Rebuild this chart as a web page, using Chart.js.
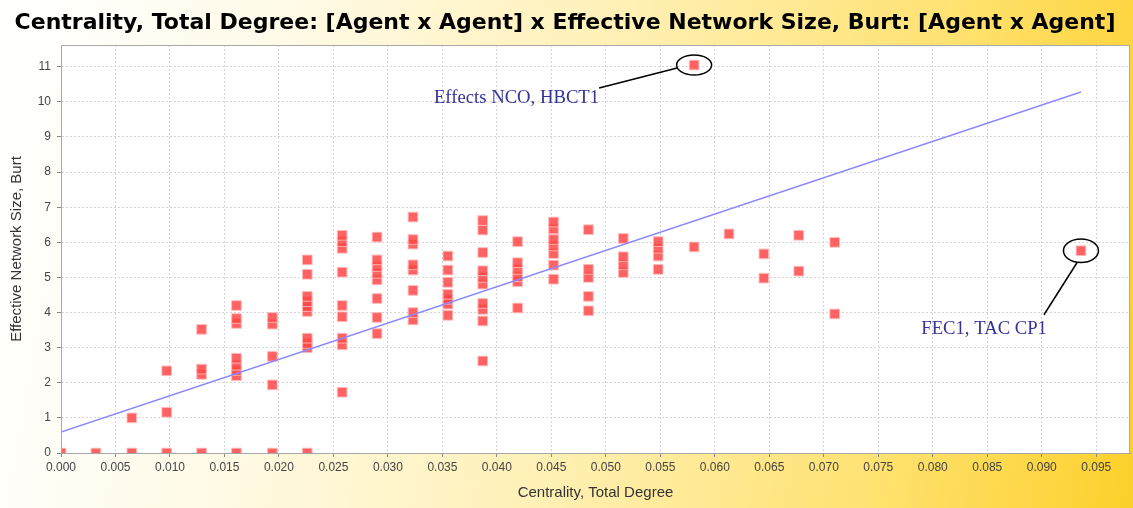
<!DOCTYPE html>
<html>
<head>
<meta charset="utf-8">
<script src="https://cdn.jsdelivr.net/npm/chart.js@4.4.0/dist/chart.umd.min.js"></script>
<style>
  html, body { margin: 0; padding: 0; }
  .wrap {
    width: 1133px;
    height: 508px;
    background: linear-gradient(100deg, #ffffff 0%, #fffbea 22%, #fff1b8 50%, #ffe272 78%, #fcd02a 100%);
  }
</style>
</head>
<body>
<div class="wrap"><canvas id="chart"></canvas></div>
<script>
// centrality (total degree) columns and the burt sizes found in each one
const degree = [0.0000, 0.0032, 0.0065, 0.0097, 0.0129, 0.0161, 0.0194, 0.0226,
    0.0258, 0.0290, 0.0323, 0.0355, 0.0387, 0.0419, 0.0452, 0.0484,
    0.0516, 0.0548, 0.0581, 0.0613, 0.0645, 0.0677, 0.0710, 0.0936];
const burtSize = [
    [0],
    [0],
    [0, 1.0],
    [0, 1.16, 2.34],
    [0, 2.24, 2.39, 3.52],
    [0, 2.2, 2.35, 2.5, 2.7, 3.69, 3.83, 4.2],
    [0, 1.94, 2.75, 3.67, 3.86],
    [0, 3.0, 3.12, 3.27, 4.03, 4.17, 4.31, 4.46, 5.09, 5.5],
    [1.73, 3.08, 3.27, 3.88, 4.2, 5.15, 5.83, 6.02, 6.2],
    [3.4, 3.86, 4.4, 4.93, 5.12, 5.31, 5.5, 6.15],
    [3.79, 4.0, 4.63, 5.21, 5.36, 5.95, 6.08, 6.72],
    [3.92, 4.24, 4.38, 4.52, 4.86, 5.21, 5.61],
    [2.62, 3.76, 4.09, 4.26, 4.81, 5.0, 5.19, 5.71, 6.35, 6.62],
    [4.13, 4.88, 5.02, 5.23, 5.42, 6.02],
    [4.95, 5.35, 5.68, 5.9, 6.08, 6.38, 6.58],
    [4.05, 4.46, 5.0, 5.23, 6.36],
    [5.14, 5.36, 5.59, 6.11],
    [5.23, 5.61, 5.83, 6.02],
    [5.87, 11.05],
    [6.24],
    [4.98, 5.67],
    [5.18, 6.2],
    [3.96, 6.0],
    [5.76]
];
const xTicks = [0.000, 0.005, 0.010, 0.015, 0.020, 0.025, 0.030, 0.035, 0.040, 0.045,
    0.050, 0.055, 0.060, 0.065, 0.070, 0.075, 0.080, 0.085, 0.090, 0.095];
const yTicks = [0, 1, 2, 3, 4, 5, 6, 7, 8, 9, 10, 11];
const trendX = [0, 0.0936];
const trendY = [0.6, 10.28];
const calloutX = [0.0581, 0.0936];
const calloutY = [11.05, 5.76];
const calloutText = ['Effects NCO, HBCT1', 'FEC1, TAC CP1'];

const points = [];
degree.forEach((d, i) => {
    burtSize[i].forEach(v => points.push({ x: d, y: v }));
});
const trend = trendX.map((x, i) => ({ x: x, y: trendY[i] }));

const plotBox = {
    id: 'plotBox',
    beforeDraw(c) {
        const a = c.chartArea;
        c.ctx.save();
        c.ctx.fillStyle = '#fff';
        c.ctx.fillRect(a.left, a.top, a.right - a.left, a.bottom - a.top);
        c.ctx.restore();
    },
    afterDraw(c) {
        const a = c.chartArea;
        const ctx = c.ctx;
        ctx.save();
        ctx.strokeStyle = '#a8a8a8';
        ctx.lineWidth = 1;
        ctx.strokeRect(a.left + 0.5, a.top + 0.5, a.right - a.left - 1, a.bottom - a.top);
        ctx.restore();
    }
};

// ellipse, leader line and label for the two marked agents
const callouts = {
    id: 'callouts',
    afterDraw(c) {
        const ctx = c.ctx;
        const xs = c.scales.x, ys = c.scales.y;
        const look = [
            { rx: 17.5, ry: 10, line: [-17, 3, -95, 23], text: [-95, 38] },
            { rx: 17.5, ry: 11.7, line: [-4, 12, -37, 64], text: [-34, 83] }
        ];
        ctx.save();
        calloutText.forEach((t, i) => {
            const px = xs.getPixelForValue(calloutX[i]);
            const py = ys.getPixelForValue(calloutY[i]);
            const l = look[i];
            ctx.strokeStyle = '#000';
            ctx.lineWidth = 1.5;
            ctx.beginPath();
            ctx.ellipse(px, py, l.rx, l.ry, 0, 0, Math.PI * 2);
            ctx.stroke();
            ctx.beginPath();
            ctx.moveTo(px + l.line[0], py + l.line[1]);
            ctx.lineTo(px + l.line[2], py + l.line[3]);
            ctx.stroke();
            ctx.fillStyle = '#333399';
            ctx.font = '18.7px "Liberation Serif", "Times New Roman", serif';
            ctx.textAlign = 'right';
            ctx.textBaseline = 'alphabetic';
            ctx.fillText(t, px + l.text[0], py + l.text[1]);
        });
        ctx.restore();
    }
};

new Chart(document.querySelector('#chart'), {
    type: 'scatter',
    data: {
        datasets: [
            {
                type: 'line',
                data: trend,
                borderColor: '#8a8aff',
                borderWidth: 1.5,
                pointRadius: 0,
                fill: false,
                order: 0
            },
            {
                data: points,
                pointStyle: 'rect',
                pointRadius: 6.8,
                backgroundColor: 'rgba(255,70,70,0.85)',
                borderColor: 'rgba(255,185,185,0.9)',
                borderWidth: 1,
                order: 1
            }
        ]
    },
    options: {
        responsive: true,
        maintainAspectRatio: false,
        animation: false,
        layout: { autoPadding: false, padding: { left: 0, right: 3, top: 0, bottom: 0 } },
        plugins: {
            legend: { display: false },
            tooltip: { enabled: false },
            title: {
                display: true,
                text: 'Centrality, Total Degree: [Agent x Agent] x Effective Network Size, Burt: [Agent x Agent]',
                color: '#000',
                font: { family: '"DejaVu Sans", sans-serif', size: 22, weight: 'bold' },
                padding: { top: 10, bottom: 8.6 }
            }
        },
        scales: {
            x: {
                type: 'linear',
                min: 0,
                max: 0.0981,
                afterBuildTicks: s => { s.ticks = xTicks.map(v => ({ value: v })); },
                afterFit: s => { s.height = 55; },
                ticks: {
                    callback: v => v.toFixed(3),
                    color: '#444',
                    font: { family: '"Liberation Sans", Arial, sans-serif', size: 12 },
                    padding: 3,
                    maxRotation: 0,
                    autoSkip: false
                },
                grid: { color: '#d6d6d6', tickLength: 4, tickColor: '#888' },
                border: { color: '#888', width: 1, dash: [2, 2] },
                title: {
                    display: true,
                    text: 'Centrality, Total Degree',
                    color: '#333',
                    font: { family: '"Liberation Sans", Arial, sans-serif', size: 15 },
                    padding: { top: 0, bottom: 6 }
                }
            },
            y: {
                min: 0,
                max: 11.62,
                afterBuildTicks: s => { s.ticks = yTicks.map(v => ({ value: v })); },
                afterFit: s => { s.width = 61; },
                ticks: {
                    color: '#444',
                    font: { family: '"Liberation Sans", Arial, sans-serif', size: 12 },
                    padding: 6
                },
                grid: { color: '#d6d6d6', tickLength: 4, tickColor: '#888' },
                border: { color: '#888', width: 1, dash: [2, 2] },
                title: {
                    display: true,
                    text: 'Effective Network Size, Burt',
                    color: '#333',
                    font: { family: '"Liberation Sans", Arial, sans-serif', size: 15 },
                    padding: { top: 8, bottom: 0 }
                }
            }
        }
    },
    plugins: [plotBox, callouts]
});
</script>
</body>
</html>
